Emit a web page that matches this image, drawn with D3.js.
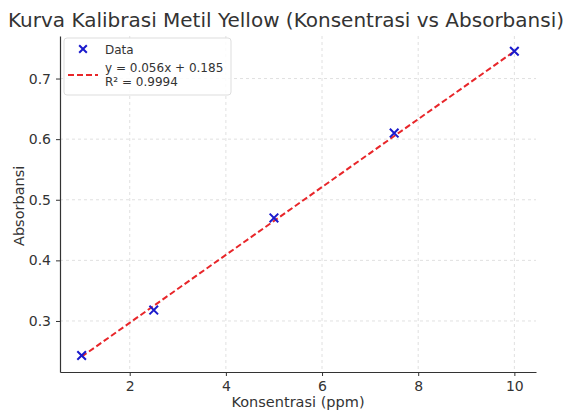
<!DOCTYPE html>
<html>
<head>
<meta charset="utf-8">
<script src="https://cdn.jsdelivr.net/npm/d3@7"></script>
<style>
  body { margin: 0; background: #fff; }
  text { font-family: "DejaVu Sans", sans-serif; fill: #333; }
  .grid line { stroke: #d8d8d8; stroke-dasharray: 3,3; stroke-width: 0.8; }
  .axis path, .axis line { stroke: #333; }
</style>
</head>
<body>
<div id="chart"></div>
<script>
// Data
var konsentrasi = [1, 2.5, 5, 7.5, 10];
var absorbansi = [0.243, 0.318, 0.470, 0.610, 0.745];
var slope = 0.056, intercept = 0.185;
var xTicks = [2, 4, 6, 8, 10];
var yTicks = [0.3, 0.4, 0.5, 0.6, 0.7];

var w = 571, h = 412;
var m = { left: 60, right: 35, top: 36, bottom: 40 };

var points = konsentrasi.map(function(x, i) { return { x: x, y: absorbansi[i] }; });
var fit = [1, 10].map(function(x) { return { x: x, y: slope * x + intercept }; });

var xScale = d3.scaleLinear().domain([0.55, 10.45]).range([m.left, w - m.right]);
var yMin = 0.241, yMax = 0.745, pad = (yMax - yMin) * 0.05;
var yScale = d3.scaleLinear().domain([yMin - pad, yMax + pad]).range([h - m.bottom, m.top]);

var svg = d3.select("#chart").append("svg").attr("width", w).attr("height", h);

// grid
svg.append("g").attr("class", "grid")
  .selectAll("line").data(xTicks).enter().append("line")
  .attr("x1", function(d) { return xScale(d); }).attr("x2", function(d) { return xScale(d); })
  .attr("y1", m.top).attr("y2", h - m.bottom);
svg.append("g").attr("class", "grid")
  .selectAll("line").data(yTicks).enter().append("line")
  .attr("y1", function(d) { return yScale(d); }).attr("y2", function(d) { return yScale(d); })
  .attr("x1", m.left).attr("x2", w - m.right);

// axes
var xAxis = d3.axisBottom(xScale).tickValues(xTicks).tickSize(4).tickPadding(5).tickSizeOuter(0);
var yAxis = d3.axisLeft(yScale).tickValues(yTicks).tickSize(4).tickPadding(5).tickSizeOuter(0)
  .tickFormat(d3.format(".1f"));

var gx = svg.append("g").attr("class", "axis")
  .attr("transform", "translate(0," + (h - m.bottom) + ")").call(xAxis);
var gy = svg.append("g").attr("class", "axis")
  .attr("transform", "translate(" + m.left + ",0)").call(yAxis);
svg.selectAll(".axis text").style("font-size", "14px").style("fill", "#333");
gx.select(".domain").attr("stroke-width", 1.2);
gy.select(".domain").attr("stroke-width", 1.2);

// fit line
var line = d3.line().x(function(d) { return xScale(d.x); }).y(function(d) { return yScale(d.y); });
svg.append("path").datum(fit)
  .attr("d", line).attr("fill", "none")
  .attr("stroke", "#e8262a").attr("stroke-width", 2).attr("stroke-dasharray", "6,3");

// markers
var cross = d3.symbol().type(d3.symbolX).size(50);
svg.selectAll(".pt").data(points).enter().append("path")
  .attr("class", "pt")
  .attr("d", cross)
  .attr("transform", function(d) { return "translate(" + xScale(d.x) + "," + yScale(d.y) + ")"; })
  .attr("fill", "none").attr("stroke", "#1a1acc").attr("stroke-width", 2);

// title and labels
svg.append("text").attr("x", 286).attr("y", 27).attr("text-anchor", "middle")
  .style("font-size", "20px").style("fill", "#333")
  .text("Kurva Kalibrasi Metil Yellow (Konsentrasi vs Absorbansi)");
svg.append("text").attr("x", xScale(5.5)).attr("y", 407).attr("text-anchor", "middle")
  .style("font-size", "14.5px").text("Konsentrasi (ppm)");
svg.append("text").attr("transform", "translate(24," + yScale(0.49) + ") rotate(-90)")
  .attr("text-anchor", "middle").style("font-size", "14.5px").text("Absorbansi");

// legend
var lg = svg.append("g").attr("transform", "translate(64,38)");
lg.append("rect").attr("width", 167).attr("height", 57).attr("rx", 3)
  .attr("fill", "#fff").attr("fill-opacity", 0.85).attr("stroke", "#ddd");
lg.append("path").attr("d", d3.symbol().type(d3.symbolX).size(40))
  .attr("transform", "translate(19,11)").attr("fill", "none")
  .attr("stroke", "#1a1acc").attr("stroke-width", 2);
lg.append("text").attr("x", 41).attr("y", 16).style("font-size", "12px").text("Data");
lg.append("line").attr("x1", 4).attr("x2", 34).attr("y1", 37).attr("y2", 37)
  .attr("stroke", "#e8262a").attr("stroke-width", 2).attr("stroke-dasharray", "6,3");
lg.append("text").attr("x", 41).attr("y", 34).style("font-size", "12px")
  .text("y = " + slope.toFixed(3) + "x + " + intercept.toFixed(3));
lg.append("text").attr("x", 41).attr("y", 48).style("font-size", "12px").text("R² = 0.9994");
</script>
</body>
</html>
